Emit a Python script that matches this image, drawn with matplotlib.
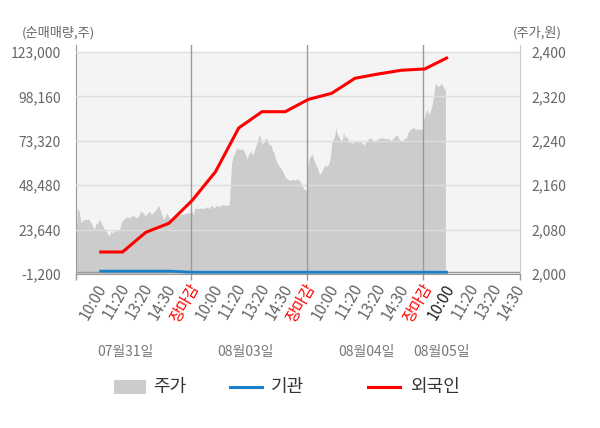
import numpy as np
import matplotlib.pyplot as plt
from matplotlib.transforms import blended_transform_factory, ScaledTranslation
from matplotlib.patches import Rectangle
from matplotlib.lines import Line2D

plt.rcParams['font.family'] = ['Noto Sans CJK KR', 'DejaVu Sans']

# 시간 구간 라벨 (하루 5칸)
slot_labels = ['10:00', '11:20', '13:20', '14:30', '장마감']
dates = ['07월31일', '08월03일', '08월04일', '08월05일']

# 외국인 / 기관 순매매량 (주), 구간별
foreign = [11100, 11100, 22100, 27200, 40000,
           56000, 80500, 89600, 89600, 96500,
           99900, 108300, 110700, 112800, 113500,
           120000]
institution = [400, 400, 400, 400, -200,
               -200, -200, -200, -200, -200,
               -200, -200, -200, -200, -200,
               -200]

# 주가 (원) : 장중 경과 분(09:00 기준)과 가격
day1_min = [0, 5, 11, 17, 23, 32, 43, 51, 57, 62, 68, 75, 80, 86, 92, 97, 105, 113,
            119, 126, 131, 139, 148, 156, 164, 173, 181, 190, 198, 207, 215, 221,
            228, 236, 244, 251, 256, 264, 272, 280, 287, 293, 298, 304, 310, 318,
            327, 335, 344, 355, 366, 378, 387, 390]
day1_px = [2067, 2119, 2113, 2092, 2097, 2098, 2099, 2092, 2086, 2080, 2091, 2092,
           2099, 2092, 2086, 2080, 2075, 2068, 2077, 2074, 2079, 2077, 2080, 2095,
           2099, 2103, 2101, 2105, 2104, 2101, 2107, 2114, 2110, 2104, 2110, 2113,
           2107, 2111, 2116, 2124, 2115, 2105, 2098, 2104, 2110, 2101, 2099, 2107,
           2104, 2107, 2108, 2110, 2111, 2111]
day2_min = [0, 3, 9, 14, 22, 31, 42, 54, 61, 70, 79, 87, 95, 104, 113, 122, 130, 133,
            137, 143, 149, 154, 160, 168, 176, 184, 190, 195, 202, 208, 213, 219,
            225, 230, 236, 241, 247, 252, 258, 264, 269, 275, 280, 285, 290, 296,
            305, 313, 318, 325, 333, 341, 347, 355, 363, 370, 375, 381, 390]
day2_px = [2116, 2116, 2107, 2119, 2118, 2119, 2118, 2121, 2118, 2124, 2119, 2124,
           2121, 2125, 2124, 2124, 2125, 2156, 2198, 2213, 2219, 2228, 2225, 2225,
           2224, 2216, 2207, 2216, 2222, 2213, 2221, 2231, 2241, 2251, 2243, 2234,
           2238, 2245, 2241, 2231, 2234, 2222, 2219, 2207, 2201, 2195, 2189, 2180,
           2174, 2171, 2168, 2171, 2169, 2171, 2170, 2164, 2158, 2153, 2150]
day3_min = [0, 2, 7, 12, 18, 23, 29, 35, 40, 45, 50, 56, 62, 67, 73, 78, 84, 90, 94,
            97, 101, 105, 110, 114, 119, 123, 128, 132, 137, 142, 148, 153, 159,
            168, 177, 185, 193, 198, 204, 209, 215, 221, 226, 232, 239, 244, 252,
            260, 267, 272, 280, 286, 291, 298, 305, 310, 317, 323, 328, 334, 338,
            345, 353, 358, 364, 372, 381, 388, 390]
day3_px = [2185, 2190, 2207, 2212, 2216, 2207, 2198, 2192, 2183, 2180, 2184, 2192,
           2196, 2194, 2198, 2207, 2238, 2244, 2250, 2265, 2254, 2250, 2244, 2241,
           2241, 2256, 2244, 2250, 2243, 2236, 2238, 2235, 2239, 2238, 2238, 2237,
           2231, 2239, 2241, 2245, 2245, 2241, 2238, 2241, 2243, 2245, 2245, 2245,
           2243, 2245, 2241, 2243, 2245, 2250, 2249, 2243, 2239, 2241, 2244, 2245,
           2253, 2260, 2262, 2265, 2261, 2261, 2261, 2261, 2261]
day4_min = [0, 2, 8, 13, 19, 25, 30, 34, 38, 42, 47, 51, 56, 60, 65, 69, 73, 75]
day4_px = [2265, 2277, 2289, 2297, 2287, 2295, 2304, 2316, 2331, 2344, 2340, 2337,
           2340, 2344, 2340, 2337, 2331, 2331]

left_ticks = [-1200, 23640, 48480, 73320, 98160, 123000]
right_ticks = [2000, 2080, 2160, 2240, 2320, 2400]

# 레이아웃
day_start = [-1.0, 3.93, 8.93, 13.93]
day_len = 5.0
x_lo, x_hi = -1.0, 18.1
date_label_x = [1.12, 6.28, 11.48, 14.71]

fig = plt.figure(figsize=(6.0, 4.28), dpi=100)
ax = fig.add_axes([76 / 600, 1 - 274 / 428, 444 / 600, 229 / 428])
ax2 = ax.twinx()
ax.set_zorder(ax2.get_zorder() + 1)
ax.patch.set_visible(False)

# 주가 영역 (오른쪽 축)
xs, ys = [], []
for d, (mins, pxs) in enumerate([(day1_min, day1_px), (day2_min, day2_px),
                                 (day3_min, day3_px), (day4_min, day4_px)]):
    width = (day_start[d + 1] - day_start[d]) if d < 3 else day_len
    xs += [day_start[d] + m / 390 * width for m in mins]
    ys += pxs
ax2.axhspan(2000, 2400, color='#f4f4f4', zorder=0, lw=0)
ax2.fill_between(xs, 2000, ys, color='#cccccc', lw=0, zorder=1)
ax2.set_ylim(2000, 2000 + 229 / 0.555)
ax2.set_yticks(right_ticks)
ax2.set_yticklabels([f'{v:,}' for v in right_ticks])

# 순매매량 (왼쪽 축)
idx = np.arange(len(foreign))
ax.plot(idx, institution, color='#1a80cc', lw=2.0, solid_capstyle='butt', zorder=4)
ax.plot(idx, foreign, color='#ff0000', lw=2.2, solid_capstyle='butt', zorder=5)
ax.axhline(0, color='#999999', lw=1, zorder=3)
for b in day_start[1:]:
    ax.axvline(b, color='#999999', lw=1, zorder=3)

ax.set_ylim(-1200, -1200 + 229 * 559.46)
ax.set_yticks(left_ticks)
ax.set_yticklabels([f'{v:,}' for v in left_ticks])
ax.yaxis.grid(True, color='#dddddd', lw=1, zorder=2)
ax.set_axisbelow(False)
ax.set_xlim(x_lo, x_hi)

n_ticks = 19
ax.set_xticks(range(n_ticks))
ax.set_xticklabels([slot_labels[i % 5] for i in range(n_ticks)])
ax.set_xticks([x_lo] + day_start[1:] + [x_hi], minor=True)
ax.tick_params(axis='x', which='major', length=0, pad=5, labelsize=11, labelcolor='#666666')
ax.tick_params(axis='x', which='minor', length=4, color='#999999', width=1)
offset = ScaledTranslation(-4 / 100, 0, fig.dpi_scale_trans)
for i, lbl in enumerate(ax.get_xticklabels()):
    lbl.set_rotation(60)
    lbl.set_ha('right')
    lbl.set_va('top')
    lbl.set_rotation_mode('anchor')
    lbl.set_transform(lbl.get_transform() + offset)
    if slot_labels[i % 5] == '장마감':
        lbl.set_color('#ff0000')
    elif i == len(foreign) - 1:
        lbl.set_color('#222222')

ax.tick_params(axis='y', length=0, pad=11, labelsize=10, labelcolor='#666666')
ax2.tick_params(axis='y', length=0, pad=8, labelsize=10, labelcolor='#666666')

for s in ['top', 'right']:
    ax.spines[s].set_visible(False)
for s in ['top', 'left', 'bottom']:
    ax2.spines[s].set_visible(False)
ax.spines['left'].set_color('#999999')
ax.spines['bottom'].set_color('#999999')
ax2.spines['right'].set_color('#cccccc')

# 날짜 라벨
tr = blended_transform_factory(ax.transData, fig.transFigure)
for x, d in zip(date_label_x, dates):
    ax.text(x, 1 - 352 / 428, d, transform=tr, ha='center', va='center',
            fontsize=10, color='#777777')

# 축 단위
fig.text(22 / 600, 1 - 33 / 428, '(순매매량,주)', ha='left', va='center',
         fontsize=9.5, color='#666666')
fig.text(562 / 600, 1 - 33 / 428, '(주가,원)', ha='right', va='center',
         fontsize=9.5, color='#666666')

# 범례
lax = fig.add_axes([0, 0, 1, 1], zorder=-1)
lax.set_xlim(0, 600)
lax.set_ylim(428, 0)
lax.axis('off')
lax.add_patch(Rectangle((114, 380), 32, 14, color='#cccccc', lw=0))
lax.text(153, 387, '주가', va='center', ha='left', fontsize=13, color='#333333')
lax.add_line(Line2D([230, 262], [387, 387], color='#1a80cc', lw=2.2))
lax.text(271, 387, '기관', va='center', ha='left', fontsize=13, color='#333333')
lax.add_line(Line2D([368, 400], [387, 387], color='#ff0000', lw=2.2))
lax.text(410, 387, '외국인', va='center', ha='left', fontsize=13, color='#333333')

fig.savefig('out.png', dpi=100)
